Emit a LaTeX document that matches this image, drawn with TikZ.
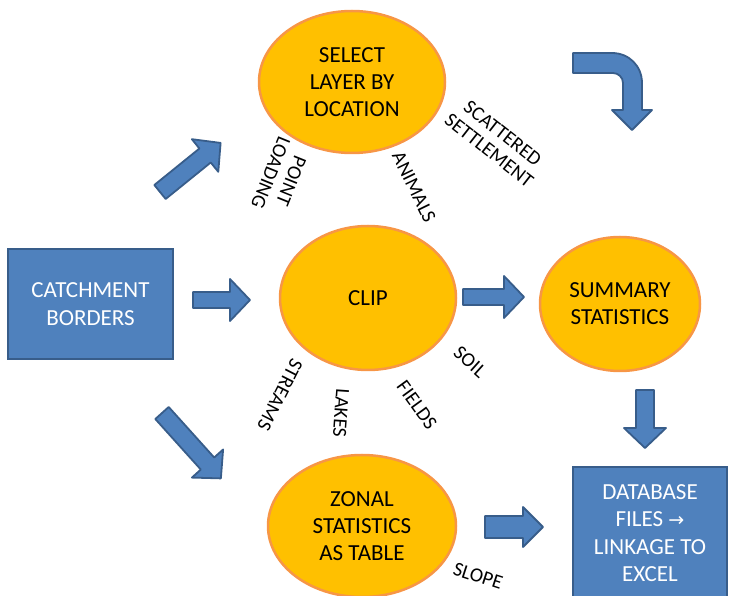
\documentclass[tikz,border=0pt]{standalone}
\usepackage{fontspec}
\setmainfont{Carlito}
\newfontfamily\arrowfont{DejaVu Sans}
\usepackage{tikz}
\usetikzlibrary{shapes.geometric}
\usepackage{xcolor}

\definecolor{boxblue}{HTML}{4F81BD}
\definecolor{boxedge}{HTML}{385D8A}
\definecolor{ellfill}{HTML}{FFC000}
\definecolor{elledge}{HTML}{F79646}

\tikzset{
  toolellipse/.style={ellipse, draw=elledge, fill=ellfill, line width=2.5pt,
    align=center, inner sep=0pt, font=\fontsize{23}{27}\selectfont},
  databox/.style={rectangle, draw=boxedge, fill=boxblue, line width=2.5pt,
    align=center, text=white, font=\fontsize{23}{28}\selectfont},
  layerlabel/.style={align=center, inner sep=0pt, font=\fontsize{20}{22}\selectfont},
  arrowshape/.style={draw=boxedge, fill=boxblue, line width=1.8pt, line join=round}
}

% block arrow: tail centre, angle, length, shaft half width, head half width
\newcommand{\blockarrow}[5]{%
  \begin{scope}[shift={(#1)}, rotate=#2]
    \draw[arrowshape] (0,-#4) -- ({#3-20},-#4) -- ({#3-20},-#5) -- (#3,0)
      -- ({#3-20},#5) -- ({#3-20},#4) -- (0,#4) -- cycle;
  \end{scope}}

\begin{document}
\begin{tikzpicture}[x=1pt, y=-1pt]
    \useasboundingbox (0,0) rectangle (732,596);
    \clip (0,0) rectangle (732,596);
    % Boxes
    \node[databox, minimum width=165, minimum height=110] (catchment) at (90.5,304) {CATCHMENT\\BORDERS};
    \node[databox, minimum width=154, minimum height=150, anchor=north] (database) at (650,466) {};
    \node[align=center, text=white, font=\fontsize{23}{27.5}\selectfont] (dbtext) at (650,533)
      {DATABASE\\FILES {\arrowfont\fontsize{19}{27}\selectfont →}\\LINKAGE TO\\EXCEL};
    % Ellipses
    \node[toolellipse, minimum width=186, minimum height=142] (select) at (352,82) {SELECT\\LAYER BY\\LOCATION};
    \node[toolellipse, minimum width=176, minimum height=144] (clip) at (368,298) {CLIP};
    \node[toolellipse, minimum width=160, minimum height=134] (summary) at (620,304) {SUMMARY\\STATISTICS};
    \node[toolellipse, minimum width=188, minimum height=142] (zonal) at (362,526) {ZONAL\\STATISTICS\\AS TABLE};
    % Layer labels
    \node[layerlabel, rotate=-112] (pointload) at (281,177) {POINT\\LOADING};
    \node[layerlabel, rotate=-64] (animals) at (414,187) {ANIMALS};
    \node[layerlabel, rotate=-38] (scattered) at (496,142) {SCATTERED\\SETTLEMENT};
    \node[layerlabel, rotate=-117] (streams) at (280,395) {STREAMS};
    \node[layerlabel, rotate=-94] (lakes) at (341,413) {LAKES};
    \node[layerlabel, rotate=-54] (fields) at (417,405) {FIELDS};
    \node[layerlabel, rotate=-42] (soil) at (470,362) {SOIL};
    \node[layerlabel, rotate=-18] (slope) at (478,576) {SLOPE};
    % Block arrows
    \blockarrow{193,300}{0}{57}{8}{21}
    \blockarrow{463,297}{0}{61}{8}{21}
    \blockarrow{485,527}{0}{58}{11}{20}
    \blockarrow{645,390}{-90}{58}{9}{21}
    \blockarrow{160,192}{39}{78}{9}{21}
    \blockarrow{162,413}{-48}{88}{9}{21}
    % Bent arrow
    \draw[arrowshape] (573,53) -- (612,53) .. controls (629,53) and (642,66) .. (642,83)
      -- (642,110) -- (652,110) -- (632,130) -- (612,110) -- (623,110) -- (623,83)
      .. controls (623,77) and (618,73) .. (613,73) -- (573,73) -- cycle;
\end{tikzpicture}
\end{document}
